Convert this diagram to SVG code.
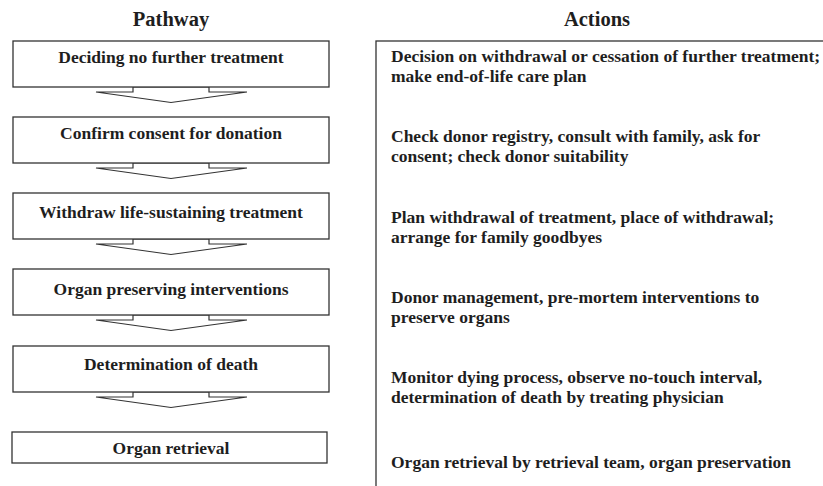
<svg xmlns="http://www.w3.org/2000/svg" width="823" height="486" viewBox="0 0 823 486" font-family="'Liberation Serif', 'Times New Roman', 'DejaVu Serif', serif">
  <style>
    .box { fill: #ffffff; stroke: #333333; stroke-width: 1.3; }
    .arrow { fill: #ffffff; stroke: #333333; stroke-width: 1.2; stroke-linejoin: miter; }
    text { font-family: 'Liberation Serif', 'Times New Roman', 'DejaVu Serif', serif; font-weight: bold; fill: #1e1e1e; }
    .head { font-size: 20.5px; text-anchor: middle; }
    .step { font-size: 17.5px; text-anchor: middle; }
    .act { font-size: 17.5px; }
  </style>
  <defs>
    <!-- block arrow pointing down, origin at the bottom edge of a box -->
    <polygon id="down" class="arrow" points="133,0 133,5 96,5 171,15.5 247,5 209,5 209,0"/>
  </defs>
  <rect width="823" height="486" fill="#ffffff"/>

  <text class="head" x="171" y="26">Pathway</text>
  <text class="head" x="597" y="26">Actions</text>

  <g id="actions-panel">
    <rect class="box" x="376" y="41" width="470" height="470"/>
    <text class="act" x="391" y="62">Decision on withdrawal or cessation of further treatment;</text>
    <text class="act" x="391" y="82">make end-of-life care plan</text>
    <text class="act" x="391" y="142">Check donor registry, consult with family, ask for</text>
    <text class="act" x="391" y="162">consent; check donor suitability</text>
    <text class="act" x="391" y="223">Plan withdrawal of treatment, place of withdrawal;</text>
    <text class="act" x="391" y="243">arrange for family goodbyes</text>
    <text class="act" x="391" y="303">Donor management, pre-mortem interventions to</text>
    <text class="act" x="391" y="323">preserve organs</text>
    <text class="act" x="391" y="383">Monitor dying process, observe no-touch interval,</text>
    <text class="act" x="391" y="403">determination of death by treating physician</text>
    <text class="act" x="391" y="468">Organ retrieval by retrieval team, organ preservation</text>
  </g>

  <g id="connectors">
    <use href="#down" y="87"/>
    <use href="#down" y="163"/>
    <use href="#down" y="239"/>
    <use href="#down" y="315"/>
    <use href="#down" y="392"/>
  </g>

  <g id="step-1">
    <rect class="box" x="13" y="41" width="316" height="46"/>
    <text class="step" x="171" y="63">Deciding no further treatment</text>
  </g>
  <g id="step-2">
    <rect class="box" x="13" y="117" width="316" height="46"/>
    <text class="step" x="171" y="139">Confirm consent for donation</text>
  </g>
  <g id="step-3">
    <rect class="box" x="13" y="193" width="316" height="46"/>
    <text class="step" x="171" y="218">Withdraw life-sustaining treatment</text>
  </g>
  <g id="step-4">
    <rect class="box" x="13" y="269" width="316" height="46"/>
    <text class="step" x="171" y="295">Organ preserving interventions</text>
  </g>
  <g id="step-5">
    <rect class="box" x="13" y="346" width="316" height="46"/>
    <text class="step" x="171" y="370">Determination of death</text>
  </g>
  <g id="step-6">
    <rect class="box" x="12" y="432" width="315" height="31"/>
    <text class="step" x="171" y="454">Organ retrieval</text>
  </g>
</svg>
